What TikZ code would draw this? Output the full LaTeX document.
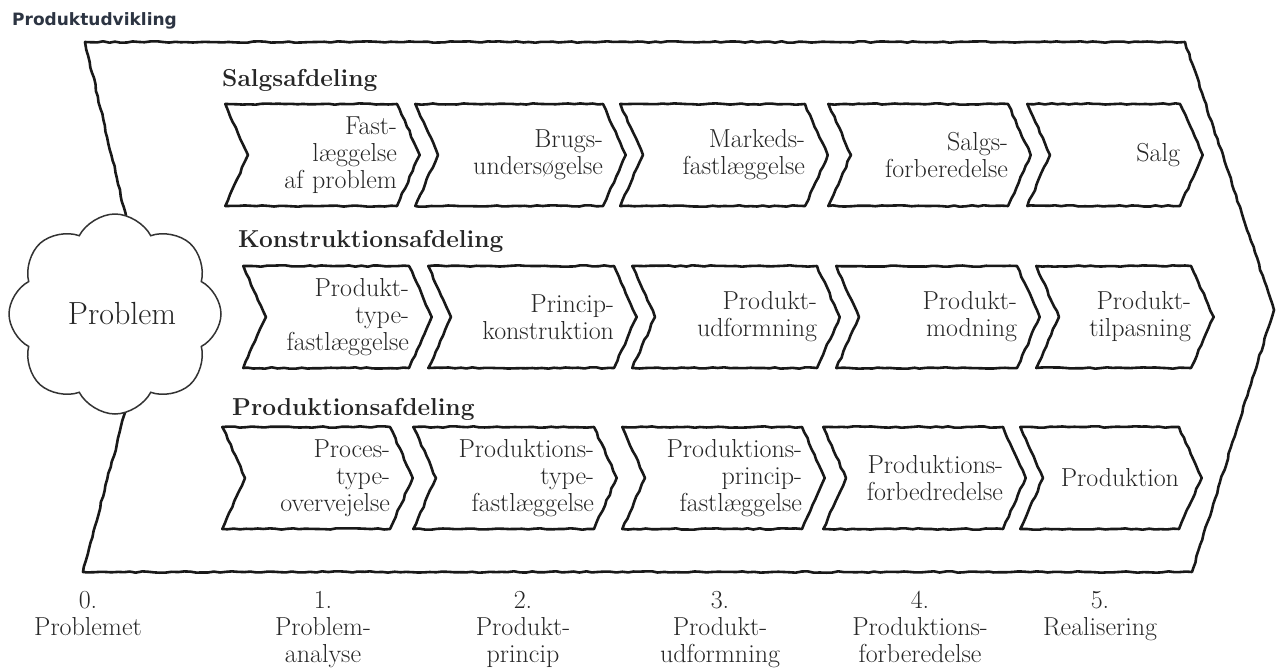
\documentclass[tikz,border=0pt]{standalone}
\usepackage{fontspec}
\newfontfamily\titlefont{DejaVu Sans}
\usepackage{tikz}
\usetikzlibrary{shapes.symbols, decorations.pathmorphing}
\definecolor{titleblue}{RGB}{44,52,66}

\begin{document}
\begin{tikzpicture}[x=1pt, y=-1pt,
    sketch/.style={decorate, decoration={random steps, segment length=6pt, amplitude=0.7pt}},
    stage/.style={signal, signal from=west, signal to=east, signal pointer angle=132, draw=black!90, sketch, line width=2.6pt, line join=round, minimum height=102pt, text width=#1, inner xsep=0pt, inner ysep=2pt, align=right, font=\fontsize{26}{27}\selectfont, text=black!85},
    dept/.style={anchor=base west, inner sep=0pt, font=\fontsize{24.5}{26}\selectfont\bfseries, text=black!85},
    phase/.style={anchor=north, inner sep=0pt, align=center, font=\fontsize{26}{27}\selectfont, text=black!85},
    outline/.style={draw=black!90, sketch, line width=2.6pt, line join=round},
]
  \pgfmathsetseed{7}
  \useasboundingbox (0,0) rectangle (1276,669);

  \node[anchor=base west, inner sep=0pt, font=\titlefont\bfseries\fontsize{17}{20}\selectfont, text=titleblue] (title) at (12,26) {Produktudvikling};

  % big arrow round the three departments
  \coordinate (ctop) at (128,225);
  \coordinate (cbot) at (127,405);
  \draw[outline] (ctop) -- (85,42) -- (1185,42) -- (1274,310) -- (1192,572) -- (83,572) -- (cbot);

  \node[cloud, cloud puffs=8, cloud puff arc=125, aspect=1.06, draw=black!80, line width=1.5pt, fill=white, minimum width=212pt, minimum height=200pt, inner sep=0pt, font=\fontsize{32}{34}\selectfont, text=black!85] (problem) at (115,314) {\hspace{14pt}Problem};

  \node[dept] (salg) at (222,86) {Salgsafdeling};
  \node[stage=149pt] (sa1) at (322.5,155) {Fast-\\læggelse\\af problem};
  \node[stage=165pt] (sa2) at (520.5,155) {Brugs-\\undersøgelse};
  \node[stage=162pt] (sa3) at (724,155) {Markeds-\\fastlæggelse};
  \node[stage=157pt] (sa4) at (929.5,155) {Salgs-\\forberedelse};
  \node[stage=130pt] (sa5) at (1115,155) {Salg};

  \node[dept] (konst) at (238,247) {Konstruktionsafdeling};
  \node[stage=143pt] (ko1) at (337.5,317) {Produkt-\\type-\\fastlæggelse};
  \node[stage=163pt] (ko2) at (532.5,317) {Princip-\\konstruktion};
  \node[stage=162pt] (ko3) at (736,317) {Produkt-\\udformning};
  \node[stage=158pt] (ko4) at (938,317) {Produkt-\\modning};
  \node[stage=132pt] (ko5) at (1125,317) {Produkt-\\tilpasning};

  \node[dept] (prod) at (232,415) {Produktionsafdeling};
  \node[stage=145pt] (pr1) at (317.5,478) {Proces-\\type-\\overvejelse};
  \node[stage=158pt] (pr2) at (515,478) {Produktions-\\type-\\fastlæggelse};
  \node[stage=157pt] (pr3) at (723.5,478) {Produktions-\\princip-\\fastlæggelse};
  \node[stage=157pt] (pr4) at (924.5,478) {Produktions-\\forbedredelse};
  \node[stage=136pt] (pr5) at (1111,478) {Produktion};

  \node[phase] (f0) at (88,591) {0.\\Problemet};
  \node[phase] (f1) at (323,591) {1.\\Problem-\\analyse};
  \node[phase] (f2) at (523,591) {2.\\Produkt-\\princip};
  \node[phase] (f3) at (720,591) {3.\\Produkt-\\udformning};
  \node[phase] (f4) at (920,591) {4.\\Produktions-\\forberedelse};
  \node[phase] (f5) at (1100,591) {5.\\Realisering};
\end{tikzpicture}
\end{document}
